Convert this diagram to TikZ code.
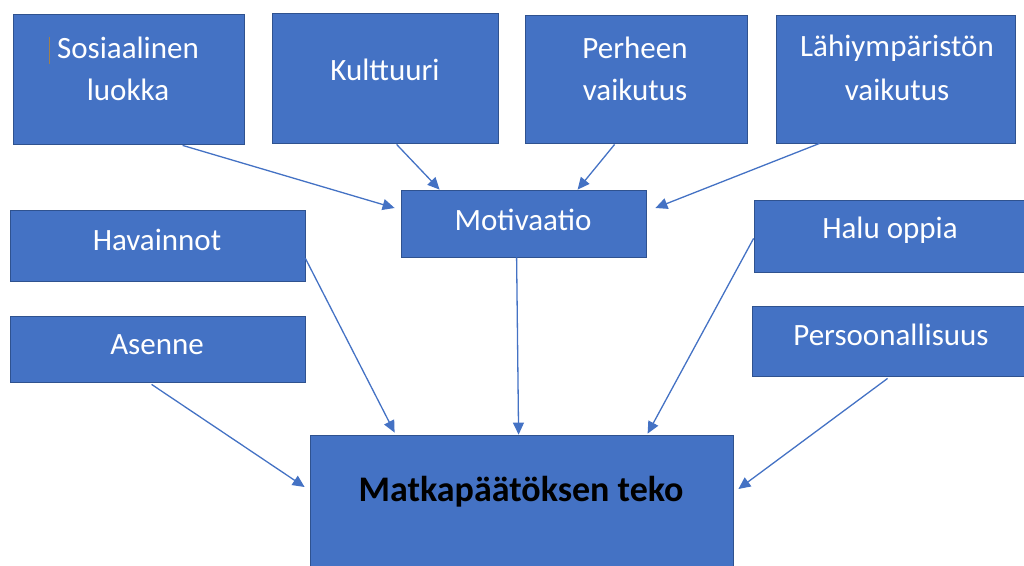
\documentclass[tikz,border=0pt]{standalone}
\usepackage{fontspec}
\setmainfont{Carlito}
\usetikzlibrary{arrows.meta,calc}
\definecolor{boxfill}{HTML}{4472C4}
\definecolor{boxline}{HTML}{2F528F}
\definecolor{arrowc}{HTML}{4472C4}
\definecolor{cursorc}{HTML}{A0804F}
\begin{document}
\begin{tikzpicture}[x=1pt,y=-1pt,
  boxstyle/.style={draw=boxline,line width=0.8pt,fill=boxfill,inner sep=0pt},
  lbl/.style={text=white,font=\fontsize{31}{42}\selectfont,align=center,inner sep=0pt},
  mainlbl/.style={text=black,font=\fontsize{36}{42}\selectfont\bfseries,inner sep=0pt},
  conn/.style={draw=arrowc,line width=1.3pt,-{Triangle[length=12pt,width=11pt]}}]
\useasboundingbox (0,0) rectangle (1024,565);
\begin{scope}
\clip (0,0) rectangle (1024,565);
% boxes
\node[boxstyle,minimum width=231,minimum height=130] (sos) at (128.5,79) {};
\node[boxstyle,minimum width=226,minimum height=130] (kul) at (385,78) {};
\node[boxstyle,minimum width=222,minimum height=128] (per) at (636,79) {};
\node[boxstyle,minimum width=239,minimum height=128] (lah) at (895.5,79) {};
\node[boxstyle,minimum width=245,minimum height=67] (mot) at (523.5,223.5) {};
\node[boxstyle,minimum width=295,minimum height=71] (hav) at (157.5,245.5) {};
\node[boxstyle,minimum width=295,minimum height=66] (ase) at (157.5,349) {};
\node[boxstyle,minimum width=274,minimum height=72] (hal) at (891,236) {};
\node[boxstyle,minimum width=276,minimum height=70] (pers) at (890,341) {};
\node[boxstyle,minimum width=423,minimum height=140] (mat) at (521.5,505) {};
% labels
\node[lbl] (tsos1) at (128,48) {Sosiaalinen};
\node[lbl] (tsos2) at (128,90) {luokka};
\node[lbl] (tkul) at (385,70) {Kulttuuri};
\node[lbl] (tper1) at (635,48) {Perheen};
\node[lbl] (tper2) at (635,90) {vaikutus};
\node[lbl] (tlah1) at (897,48) {Lähiympäristön};
\node[lbl] (tlah2) at (897,90) {vaikutus};
\node[lbl] (tmot) at (523,220) {Motivaatio};
\node[lbl] (thav) at (157,240) {Havainnot};
\node[lbl] (tase) at (157,345) {Asenne};
\node[lbl] (thal) at (890,230) {Halu oppia};
\node[lbl] (tpers) at (891,335) {Persoonallisuus};
\node[mainlbl] (tmat) at (521,492) {Matkapäätöksen teko};
% cursor mark
\draw[cursorc,line width=1.4pt] (49.5,37) -- (49.5,64);
% connectors
\coordinate (e1) at ($(mot.west)+(-6,-15.5)$);
\coordinate (e4) at ($(mot.east)+(9,-15.5)$);
\draw[conn] ($(sos.south west)+(170,1)$) -- (e1);
\draw[conn] ($(kul.south west)+(125,1)$) -- ($(mot.north west)+(39,0)$);
\draw[conn] ($(per.south west)+(90,1)$) -- ($(mot.north west)+(177,0)$);
\draw[conn] ($(lah.south west)+(44,0)$) -- (e4);
\draw[conn] ($(mot.south west)+(116,0)$) -- ($(mat.north west)+(209,0)$);
\draw[conn] ($(hav.south east)+(0,-23)$) -- ($(mat.north west)+(85,-2)$);
\draw[conn] ($(ase.south west)+(142,2)$) -- ($(mat.west)+(-5,-18)$);
\draw[conn] ($(hal.south west)+(0,-34)$) -- ($(mat.north west)+(338,-1)$);
\draw[conn] ($(pers.south west)+(136,2)$) -- ($(mat.east)+(5,-16)$);
\end{scope}
\end{tikzpicture}
\end{document}
